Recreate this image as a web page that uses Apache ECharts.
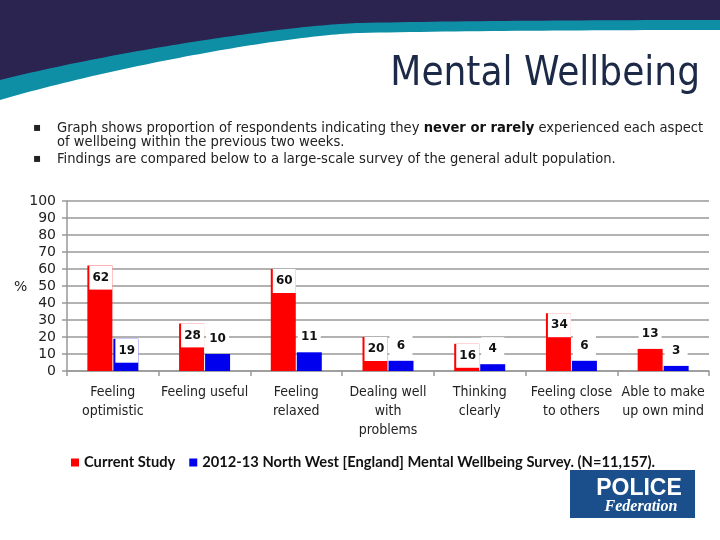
<!DOCTYPE html>
<html><head><meta charset="utf-8">
<script src="https://cdn.jsdelivr.net/npm/echarts@6/dist/echarts.min.js"></script>
<style>html,body{margin:0;padding:0;background:#fff}#c{width:720px;height:540px}</style>
</head><body><div id="c"></div>
<script>
var categories = ['Feeling\noptimistic', 'Feeling useful', 'Feeling\nrelaxed', 'Dealing well\nwith\nproblems', 'Thinking\nclearly', 'Feeling close\nto others', 'Able to make\nup own mind'];
var currentStudy = [62, 28, 60, 20, 16, 34, 13];
var northWest = [19, 10, 11, 6, 4, 6, 3];
var yTicks = [0, 10, 20, 30, 40, 50, 60, 70, 80, 90, 100];
var seriesNames = ['Current Study', '2012-13 North West [England] Mental Wellbeing Survey. (N=11,157).'];

// label placement style (white boxes overlapping some bar tops, as in the slide)
var coverRed = [true, true, true, true, true, true, false];
var coverBlue = [true, false, false, false, false, false, false];

function lbl(cover) {
  var base = {show: true, color: '#111', fontFamily: 'DejaVu Sans', fontWeight: 'bold', fontSize: 12,
    backgroundColor: '#fff', width: 23, height: 24, lineHeight: 24, align: 'center'};
  if (cover) { base.position = 'insideTop'; base.distance = 0; base.offset = [1, 0]; }
  else { base.position = 'top'; base.distance = 3; }
  return base;
}
function build(vals, cover) {
  return vals.map(function (v, i) { return {value: v, label: lbl(cover[i])}; });
}

// header decoration: sample cubic curves into polygon outlines
function cubic(p0, p1, p2, p3, n, out) {
  for (var i = 1; i <= n; i++) {
    var t = i / n, a = (1 - t) * (1 - t) * (1 - t), b = 3 * t * (1 - t) * (1 - t), c = 3 * t * t * (1 - t), d = t * t * t;
    out.push([a * p0[0] + b * p1[0] + c * p2[0] + d * p3[0], a * p0[1] + b * p1[1] + c * p2[1] + d * p3[1]]);
  }
}
function band(yR, yM, c1, yL) {
  var pts = [[0, 0], [720, 0], [720, yR]];
  cubic([720, yR], [600, yR], [450, yR + 1], [360, yM], 30, pts);
  cubic([360, yM], [290, yM + 2], c1, [0, yL], 60, pts);
  return pts;
}
var tealPts = band(30, 33, [120, 65], 100);
var darkPts = band(20, 23, [120, 50], 80);

var chart = echarts.init(document.getElementById('c'), null, {renderer: 'canvas'});
var narrow = "'Liberation Sans Narrow', 'DejaVu Sans Condensed', sans-serif";
chart.setOption({
  animation: false,
  grid: {left: 67, right: 11, top: 201, bottom: 169, containLabel: false},
  legend: {
    left: 66, top: 450, itemWidth: 8, itemHeight: 8, itemGap: 14, icon: 'rect',
    textStyle: {fontFamily: 'Lato', fontWeight: 'bold', fontSize: 14.7, color: '#111'},
    data: seriesNames
  },
  xAxis: {
    type: 'category', data: categories,
    axisLine: {lineStyle: {color: '#999', width: 1.5}},
    axisTick: {show: true, length: 5, lineStyle: {color: '#999', width: 1.5}},
    axisLabel: {interval: 0, margin: 12, color: '#222', fontFamily: narrow, fontSize: 14, lineHeight: 19}
  },
  yAxis: {
    type: 'value', min: 0, max: 100, interval: 10,
    axisLine: {show: true, lineStyle: {color: '#999', width: 1.5}},
    axisTick: {show: true, length: 5, lineStyle: {color: '#999', width: 1.5}},
    splitLine: {lineStyle: {color: '#999', width: 1.5}},
    axisLabel: {margin: 11, color: '#222', fontFamily: 'DejaVu Sans', fontSize: 14,
      formatter: function (v) { return yTicks.indexOf(v) >= 0 ? String(v) : ''; }}
  },
  series: [
    {name: seriesNames[0], type: 'bar', barWidth: 25, barGap: '4%', itemStyle: {color: '#ff0000'}, data: build(currentStudy, coverRed)},
    {name: seriesNames[1], type: 'bar', barWidth: 25, barGap: '4%', itemStyle: {color: '#0000ee'}, data: build(northWest, coverBlue)}
  ],
  graphic: [
    {type: 'polygon', z: 1, shape: {points: tealPts}, style: {fill: '#0f8fa6'}},
    {type: 'polygon', z: 2, shape: {points: darkPts}, style: {fill: '#2b2350'}},
    {type: 'text', z: 3, style: {x: 700, y: 75, text: 'Mental Wellbeing', textAlign: 'right', textVerticalAlign: 'middle',
      fill: '#1c2a48', font: '40px ' + narrow}},
    {type: 'text', style: {x: 33, y: 128, text: '▪', fill: '#222', font: '12px DejaVu Sans', textVerticalAlign: 'middle'}},
    {type: 'text', style: {x: 33, y: 159, text: '▪', fill: '#222', font: '12px DejaVu Sans', textVerticalAlign: 'middle'}},
    {type: 'text', style: {x: 57, y: 128, textVerticalAlign: 'middle',
      text: 'Graph shows proportion of respondents indicating they {b|never or rarely} experienced each aspect',
      fill: '#222', font: '14.6px ' + narrow,
      rich: {b: {fontWeight: 'bold', fontSize: 14.6, fontFamily: narrow, fill: '#111'}}}},
    {type: 'text', style: {x: 57, y: 142, textVerticalAlign: 'middle', text: 'of wellbeing within the previous two weeks.', fill: '#222', font: '14.6px ' + narrow}},
    {type: 'text', style: {x: 57, y: 159, textVerticalAlign: 'middle', text: 'Findings are compared below to a large-scale survey of the general adult population.', fill: '#222', font: '14.6px ' + narrow}},
    {type: 'text', style: {x: 14, y: 287, text: '%', fill: '#222', font: '14px DejaVu Sans', textVerticalAlign: 'middle'}},
    {type: 'rect', shape: {x: 570, y: 470, width: 125, height: 48}, style: {fill: '#1b4f8c'}},
    {type: 'text', style: {x: 639, y: 489, text: 'POLICE', textAlign: 'center', textVerticalAlign: 'middle', fill: '#fff', font: 'bold 23px Liberation Sans'}},
    {type: 'text', style: {x: 641, y: 507, text: 'Federation', textAlign: 'center', textVerticalAlign: 'middle', fill: '#fff', font: 'italic bold 16px Liberation Serif'}}
  ]
});
</script></body></html>
